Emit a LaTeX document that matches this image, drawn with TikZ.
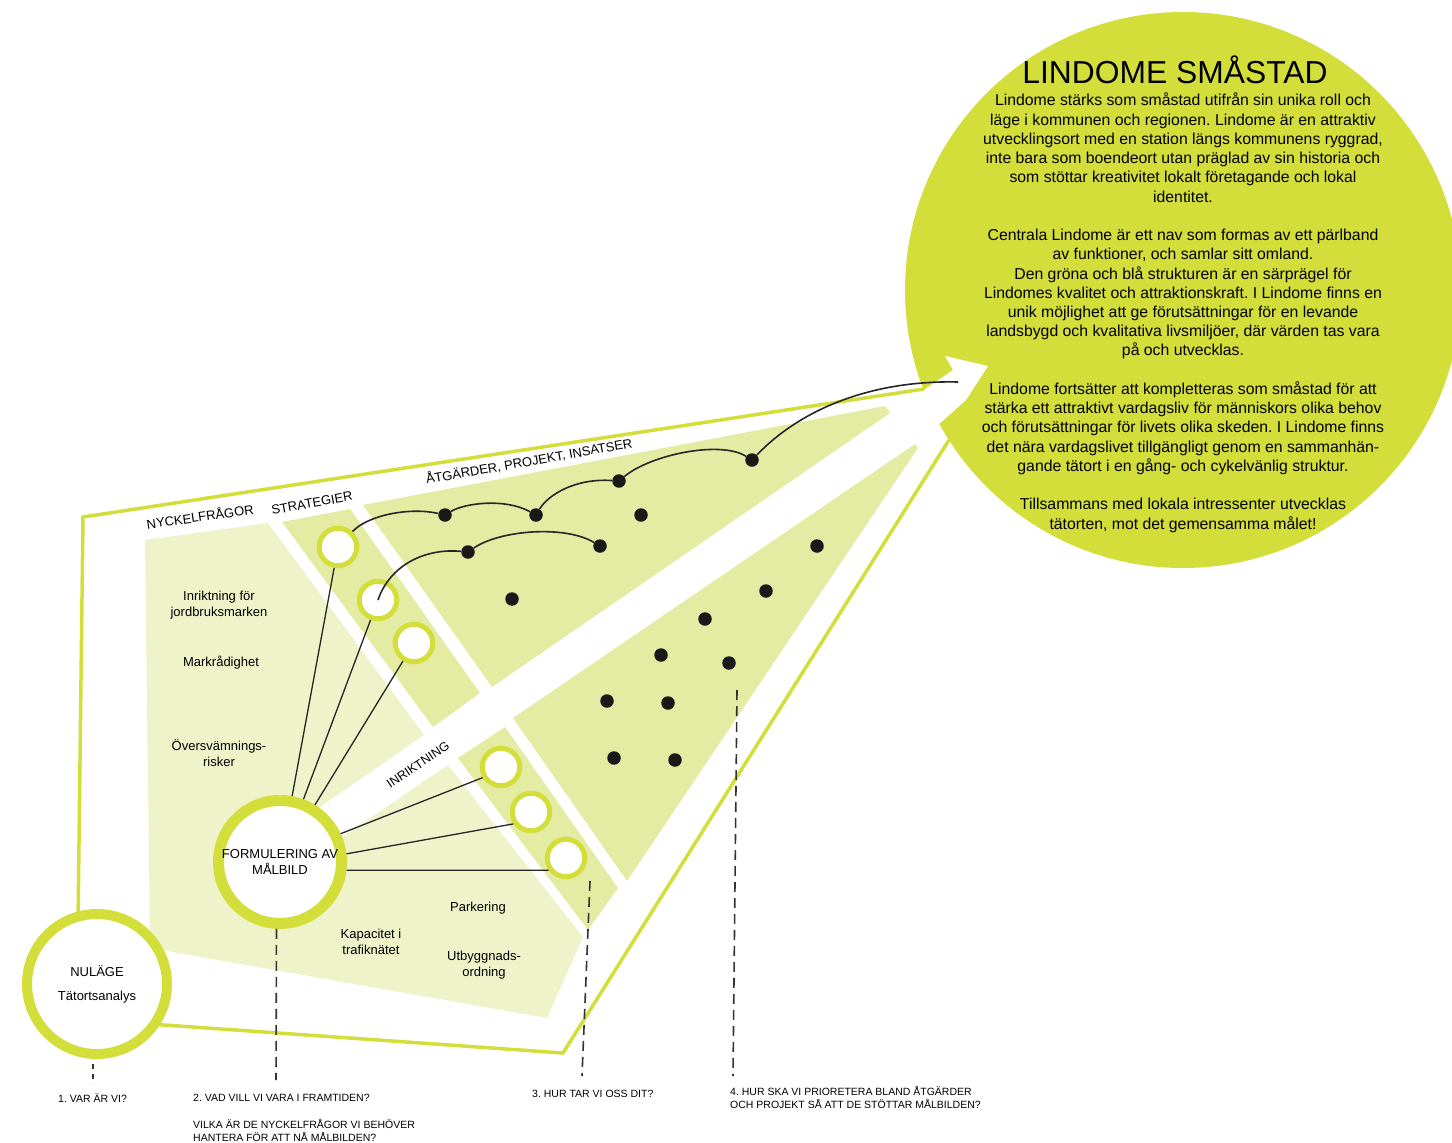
\documentclass[tikz,border=0pt]{standalone}
\usepackage{fontspec}
\setmainfont{Liberation Sans}
\frenchspacing
\begin{document}
\begin{tikzpicture}[x=1pt,y=-1pt,
  limering/.style={circle, draw=lime, fill=white, inner sep=0pt},
  smallring/.style={limering, line width=5pt, minimum size=37.5pt},
  blackdot/.style={circle, fill=black!90, inner sep=0pt, minimum size=13.5pt},
  lbl/.style={font=\fontsize{13}{16}\selectfont, align=center, inner sep=0pt},
  hdr/.style={font=\fontsize{13}{16}\selectfont, inner sep=0pt},
  blbl/.style={font=\fontsize{10.5}{13}\selectfont, align=left, inner sep=0pt, anchor=west},
  conn/.style={draw=black!85, line width=1.3pt},
  curvln/.style={draw=black!85, line width=1.6pt},
  dashln/.style={draw=black!80, line width=1.6pt, dash pattern=on 10pt off 6pt},
  outline/.style={draw=lime, line width=3.5pt}
]
\definecolor{lime}{RGB}{212,222,58}
\definecolor{midg}{RGB}{228,235,162}
\definecolor{paleg}{RGB}{239,243,202}

\useasboundingbox (0,0) rectangle (1452,1143);

% big goal circle
\fill[lime] (1183,290) circle[radius=278pt];
% white arrow head cut into the circle
\fill[white] (921,392) -- (953,370) -- (945,356) -- (988,366) -- (966,400)
  -- (938,425) -- (947,441) -- (926,418) -- cycle;

% outer funnel lines
\coordinate (TL) at (83,517);
\coordinate (BR) at (563,1053);
\coordinate (UE) at (924,389);
\coordinate (LE) at (949,440);
\coordinate (LB) at (78,925);
\coordinate (NB) at (150,1024);
\draw[outline, line join=miter] (UE) -- (TL) -- (LB);
\draw[outline, line join=miter] (NB) -- (BR) -- (LE);

% regions
\fill[paleg] (145,540) -- (268,523) -- (424,735) -- (300,821) -- (310,859)
  -- (448,765) -- (583,937) -- (547,1018) -- (150,948) -- cycle;
\fill[midg] (282,522) -- (350,509) -- (480,693) -- (433,727) -- cycle;
\fill[midg] (363,505) -- (885,406) -- (890,413) -- (492,687) -- cycle;
\fill[midg] (458,758) -- (505,727) -- (618,888) -- (588,930) -- cycle;
\fill[midg] (513,718) -- (915,444) -- (918,448) -- (627,881) -- cycle;

% main circles
\node[limering, line width=10pt, minimum size=140pt, align=center,
  font=\fontsize{13}{16}\selectfont] (N) at (97,984)
  {NULÄGE\\[8pt]Tätortsanalys};
\node[limering, line width=11pt, minimum size=123pt, align=center,
  font=\fontsize{13}{16}\selectfont] (F) at (280,862)
  {FORMULERING AV\\MÅLBILD};

% strategy circles
\node[smallring] (C1) at (338,547) {};
\node[smallring] (C2) at (378,600) {};
\node[smallring] (C3) at (414,643) {};
% direction circles
\node[smallring] (D1) at (501,767) {};
\node[smallring] (D2) at (531,812) {};
\node[smallring] (D3) at (566,858) {};

% dots upper
\node[blackdot] (a1) at (445,515) {};
\node[blackdot] (a2) at (536,515) {};
\node[blackdot] (a3) at (619,481) {};
\node[blackdot] (a4) at (752,460) {};
\node[blackdot] (a5) at (641,515) {};
\node[blackdot] (a6) at (468,552) {};
\node[blackdot] (a7) at (600,546) {};
\node[blackdot] (a8) at (512,599) {};
% dots lower
\node[blackdot] (b1) at (817,546) {};
\node[blackdot] (b2) at (766,591) {};
\node[blackdot] (b3) at (705,619) {};
\node[blackdot] (b4) at (661,655) {};
\node[blackdot] (b5) at (729,663) {};
\node[blackdot] (b6) at (607,701) {};
\node[blackdot] (b7) at (668,703) {};
\node[blackdot] (b8) at (614,758) {};
\node[blackdot] (b9) at (675,760) {};

% straight connectors
\draw[conn] (F) -- (C1);
\draw[conn] (F) -- (C2);
\draw[conn] (F) -- (C3);
\draw[conn] (F.25) -- (D1.210);
\draw[conn] (F.7) -- (D2.214);
\draw[conn] (F.-7) -- (D3.215);

% curved chains
\coordinate (tipend) at (958,382);
\draw[curvln] (C1) .. controls (368,515) and (410,507) .. (a1);
\draw[curvln] (a1) .. controls (465,503) and (505,498) .. (a2);
\draw[curvln] (a2) .. controls (548,495) and (575,478) .. (a3);
\draw[curvln] (a3) .. controls (650,455) and (720,440) .. (a4);
\draw[curvln] (a4) .. controls (800,410) and (870,380) .. (tipend);
\draw[curvln] (C2.center) .. controls (390,565) and (425,548) .. (a6);
\draw[curvln] (a6) .. controls (500,530) and (565,525) .. (a7);

% dashed guide lines
\coordinate (q1a) at (93,1064);
\coordinate (q1b) at (93,1084);
\coordinate (q2b) at (276,1080);
\coordinate (q3a) at (590,881);
\coordinate (q3b) at (582,1076);
\coordinate (q4a) at (737,690);
\coordinate (q4b) at (733,1076);
\draw[dashln, dash pattern=on 5pt off 5pt] (q1a) -- (q1b);
\draw[dashln] (F.267) -- (q2b);
\draw[dashln] (q3a) -- (q3b);
\draw[dashln] (q4a) -- (q4b);

% headers
\node[hdr, rotate=8] (h1) at (200,516) {NYCKELFRÅGOR};
\node[hdr, rotate=10] (h2) at (312,503) {STRATEGIER};
\node[hdr, rotate=10] (h3) at (529,461) {ÅTGÄRDER, PROJEKT, INSATSER};
\node[hdr, rotate=34, font=\fontsize{12.5}{15}\selectfont] (h4) at (418,765) {INRIKTNING};

% region labels
\node[lbl] (t1) at (219,605) {Inriktning för\\jordbruksmarken};
\node[lbl] (t2) at (221,663) {Markrådighet};
\node[lbl] (t3) at (219,753) {Översvämnings-\\risker};
\node[lbl] (t4) at (371,942) {Kapacitet i\\trafiknätet};
\node[lbl] (t5) at (478,908) {Parkering};
\node[lbl] (t6) at (484,965) {Utbyggnads-\\ordning};

% bottom questions
\node[blbl] (L1) at (58,1098) {1. VAR ÄR VI?};
\node[blbl] (L2) at (193,1098) {2. VAD VILL VI VARA I FRAMTIDEN?};
\node[blbl] (L2b) at (193,1130.5) {VILKA ÄR DE NYCKELFRÅGOR VI BEHÖVER\\HANTERA FÖR ATT NÅ MÅLBILDEN?};
\node[blbl] (L3) at (532,1094) {3. HUR TAR VI OSS DIT?};
\node[blbl] (L4) at (730,1097.5) {4. HUR SKA VI PRIORETERA BLAND ÅTGÄRDER\\OCH PROJEKT SÅ ATT DE STÖTTAR MÅLBILDEN?};

% goal text
\node[font=\fontsize{31.8}{36}\selectfont, inner sep=0pt] (title) at (1175,70) {LINDOME SMÅSTAD};
\node[font=\fontsize{15.8}{19.23}\selectfont, align=center, inner sep=0pt, anchor=north] (body) at (1183,93) {%
Lindome stärks som småstad utifrån sin unika roll och\\
läge i kommunen och regionen. Lindome är en attraktiv\\
utvecklingsort med en station längs kommunens ryggrad,\\
inte bara som boendeort utan präglad av sin historia och\\
som stöttar kreativitet lokalt företagande och lokal\\
identitet.\\
~\\
Centrala Lindome är ett nav som formas av ett pärlband\\
av funktioner, och samlar sitt omland.\\
Den gröna och blå strukturen är en särprägel för\\
Lindomes kvalitet och attraktionskraft. I Lindome finns en\\
unik möjlighet att ge förutsättningar för en levande\\
landsbygd och kvalitativa livsmiljöer, där värden tas vara\\
på och utvecklas.\\
~\\
Lindome fortsätter att kompletteras som småstad för att\\
stärka ett attraktivt vardagsliv för människors olika behov\\
och förutsättningar för livets olika skeden. I Lindome finns\\
det nära vardagslivet tillgängligt genom en sammanhän-\\
gande tätort i en gång- och cykelvänlig struktur.\\
~\\
Tillsammans med lokala intressenter utvecklas\\
tätorten, mot det gemensamma målet!};
\end{tikzpicture}
\end{document}
